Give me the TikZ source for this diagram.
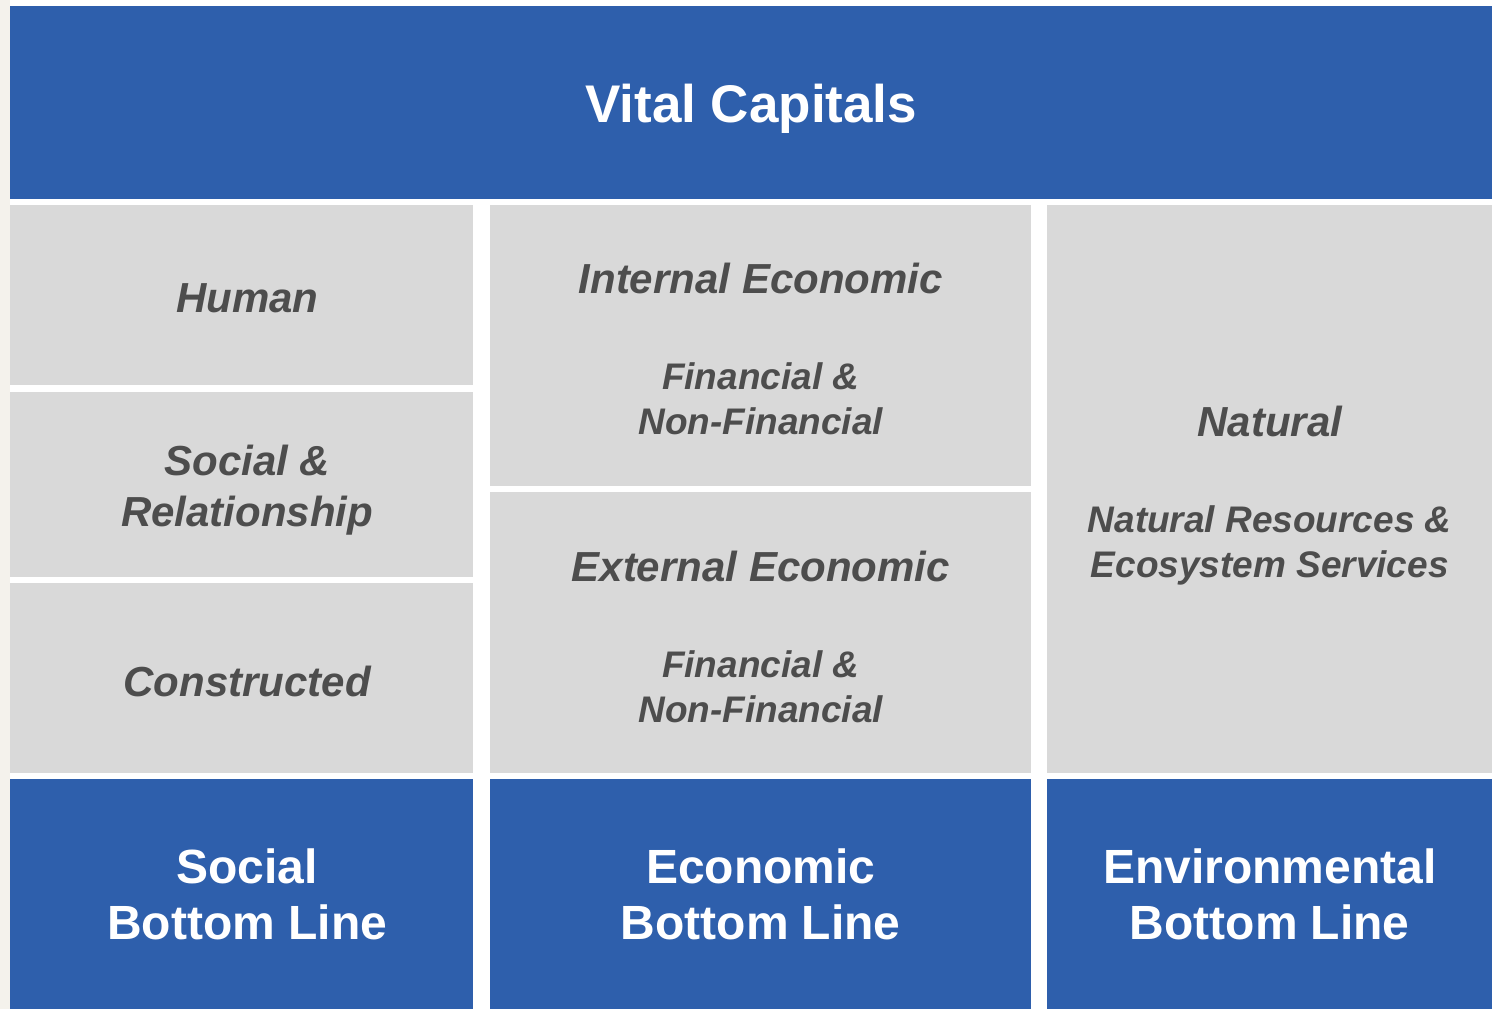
\documentclass[tikz,border=0pt]{standalone}
\usepackage{fontspec}
\setmainfont{Liberation Sans}
\usepackage{xcolor}
\usepackage{tikz}
\usetikzlibrary{positioning}
\definecolor{vcblue}{HTML}{2E5FAC}
\definecolor{vcgrey}{HTML}{D9D9D9}
\definecolor{vctext}{HTML}{4D4D4D}
\definecolor{vcedge}{HTML}{F4F2EC}
\newcommand{\subsize}{\fontsize{37}{45}\selectfont}
\newcommand{\lpad}{\hspace*{11pt}}
\tikzstyle{bar} = [rectangle, fill=vcblue, text=white, anchor=north west, inner sep=0pt, align=center, font=\bfseries\fontsize{48}{56}\selectfont]
\tikzstyle{block} = [rectangle, fill=vcgrey, text=vctext, anchor=north west, inner sep=0pt, align=center, font=\bfseries\itshape\fontsize{42}{51}\selectfont]

\begin{document}
\begin{tikzpicture}[x=1pt, y=-1pt]
    \useasboundingbox (0,0) rectangle (1492,1009);
    \fill [white] (0,0) rectangle (1492,1009);
    \fill [vcedge] (0,0) rectangle (10,1009);

    \node [bar, minimum width=1482pt, minimum height=193pt, text height=39pt, text depth=0pt, font=\bfseries\fontsize{53}{60}\selectfont] (vital) at (10,6) {Vital Capitals};

    % left column
    \node [block, minimum width=463pt, minimum height=180pt, text height=34pt, text depth=0pt] (human) at (10,205) {\lpad Human};
    \node [block, minimum width=463pt, minimum height=185pt] (social) at (10,392) {\rule{0pt}{42pt}\lpad Social \&\\\lpad Relationship};
    \node [block, minimum width=463pt, minimum height=190pt, text height=36pt, text depth=0pt] (constructed) at (10,583) {\lpad Constructed};

    % middle column
    \node [block, minimum width=541pt, minimum height=281pt] (internal) at (490,205) {\rule{0pt}{37pt}Internal Economic\\[45pt]\subsize Financial \&\\[-6pt]\subsize Non-Financial};
    \node [block, minimum width=541pt, minimum height=281pt] (external) at (490,492) {\rule{0pt}{38pt}External Economic\\[45pt]\subsize Financial \&\\[-6pt]\subsize Non-Financial};

    % right column
    \node [block, minimum width=445pt, minimum height=568pt] (natural) at (1047,205) {\rule{0pt}{44pt}Natural\\[45pt]\subsize Natural Resources \&\\[-6pt]\subsize Ecosystem Services};

    \node [bar, minimum width=463pt, minimum height=230pt] (socialbl) at (10,779) {\lpad Social\\\lpad Bottom Line};
    \node [bar, minimum width=541pt, minimum height=230pt] (economicbl) at (490,779) {Economic\\Bottom Line};
    \node [bar, minimum width=445pt, minimum height=230pt] (environbl) at (1047,779) {Environmental\\Bottom Line};
  \end{tikzpicture}
\end{document}
